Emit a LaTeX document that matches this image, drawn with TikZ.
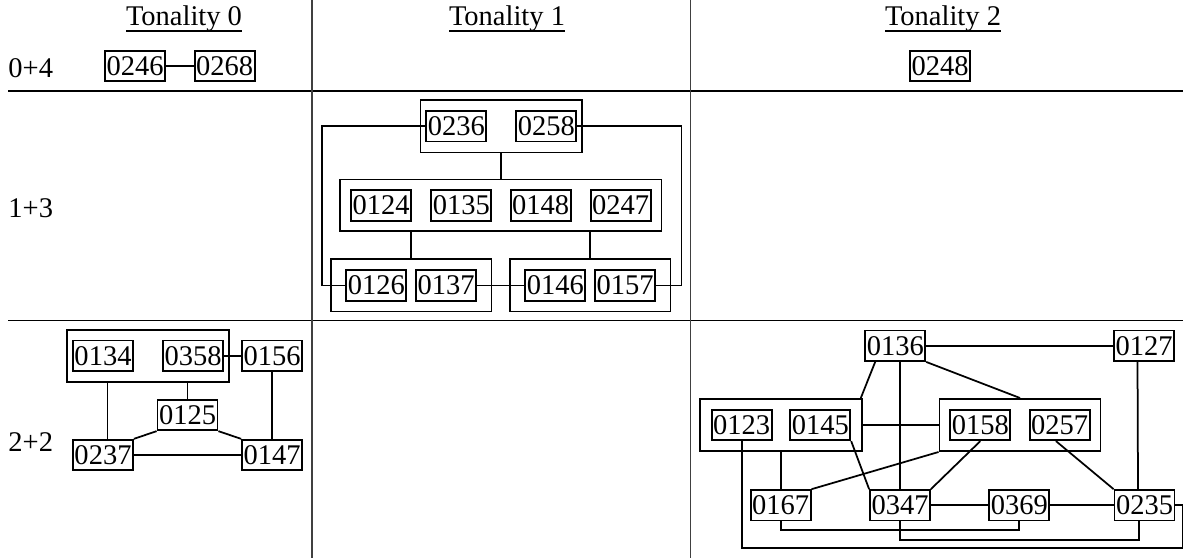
\documentclass[tikz,border=0pt]{standalone}
\usepackage{fontspec}
\setmainfont{Liberation Serif}
\usepackage{tikz}
\usetikzlibrary{fit}
\newcommand{\thickul}[1]{\setbox0\hbox{#1}\rlap{\rule[-2.3pt]{\wd0}{0.7pt}}\box0}
\tikzstyle{pcs}=[draw=black,line width=0.7pt,minimum width=24pt,minimum height=12.2pt,inner sep=0pt]
\tikzstyle{pcsgroup}=[draw=black,line width=0.7pt]
\tikzstyle{link}=[line width=0.7pt]
\tikzstyle{rowlabel}=[anchor=base west,inner sep=0pt]
\tikzstyle{head}=[anchor=base,inner sep=0pt]

\begin{document}
\begin{tikzpicture}[x=0.4pt,y=-0.4pt,font=\fontsize{11.4}{13}\selectfont]
    \useasboundingbox (0,0) rectangle (1185,558);
    \draw[line width=0.45pt] (8,91) -- (1183,91);
    \draw[line width=0.45pt] (8,320.7) -- (1183,320.7);
    \draw[line width=0.45pt,black!75] (312,0) -- (312,558);
    \draw[line width=0.45pt,black!75] (690.5,0) -- (690.5,558);

    \node[head] (t0) at (184,26) {\thickul{Tonality 0}};
    \node[head] (t1) at (507,26) {\thickul{Tonality 1}};
    \node[head] (t2) at (943,26) {\thickul{Tonality 2}};
    \node[rowlabel] (r04) at (8,78) {0+4};
    \node[rowlabel] (r13) at (8,218) {1+3};
    \node[rowlabel] (r22) at (8,451.5) {2+2};

    \node[pcs] (p0246) at (135,66) {0246};
    \node[pcs] (p0268) at (224.7,66) {0268};
    \node[pcs] (p0248) at (940,66) {0248};
    \draw[link] (p0246) -- (p0268);

    \node[pcs] (p0236) at (456.3,126.3) {0236};
    \node[pcs] (p0258) at (546.3,126.3) {0258};
    \node[pcs] (p0124) at (381,205.5) {0124};
    \node[pcs] (p0135) at (461.3,205.5) {0135};
    \node[pcs] (p0148) at (540.7,205.5) {0148};
    \node[pcs] (p0247) at (620.7,205.5) {0247};
    \node[pcs] (p0126) at (376.3,285.5) {0126};
    \node[pcs] (p0137) at (446,285.5) {0137};
    \node[pcs] (p0146) at (555.3,285.5) {0146};
    \node[pcs] (p0157) at (625,285.5) {0157};
    \node[pcsgroup,inner xsep=2pt,inner ysep=4pt,fit=(p0236)(p0258)] (gA) {};
    \node[pcsgroup,inner xsep=4pt,inner ysep=3.9pt,fit=(p0124)(p0247)] (gB) {};
    \node[pcsgroup,inner xsep=5.8pt,inner ysep=4pt,fit=(p0126)(p0137)] (gC) {};
    \node[pcsgroup,inner xsep=5.8pt,inner ysep=4pt,fit=(p0146)(p0157)] (gD) {};
    \draw[link] (gA.south) -- (gA.south |- gB.north);
    \draw[link] (gC.north) -- (gC.north |- gB.south);
    \draw[link] (gD.north) -- (gD.north |- gB.south);
    \draw[link] (p0236.west) -- ++(-103.7,0) |- (p0126.west);
    \draw[link] (p0258.east) -- ++(104.3,0) |- (p0157.east);
    \draw[link] (p0137) -- (p0146);

    \node[pcs] (p0134) at (103,355.8) {0134};
    \node[pcs] (p0358) at (193,355.8) {0358};
    \node[pcs] (p0156) at (272,355.8) {0156};
    \node[pcs] (p0125) at (187.5,415) {0125};
    \node[pcs] (p0237) at (103,455) {0237};
    \node[pcs] (p0147) at (272,455) {0147};
    \node[pcsgroup,inner xsep=2pt,inner ysep=4pt,fit=(p0134)(p0358)] (gE) {};
    \draw[link] (p0358) -- (p0156);
    \draw[link] ([xshift=1.8pt]p0237.north) -- ([xshift=1.8pt]p0237.north |- gE.south);
    \draw[link] (p0125.north) -- (p0125.north |- gE.south);
    \draw[link] (p0125.south west) -- (p0237.north east);
    \draw[link] (p0125.south east) -- (p0147.north west);
    \draw[link] (p0237) -- (p0147);
    \draw[link] (p0156) -- (p0147);

    \node[pcs] (p0136) at (895.3,345.8) {0136};
    \node[pcs] (p0127) at (1144,345.8) {0127};
    \node[pcs] (p0123) at (741.7,425) {0123};
    \node[pcs] (p0145) at (820.3,425) {0145};
    \node[pcs] (p0158) at (980.3,425) {0158};
    \node[pcs] (p0257) at (1059.7,425) {0257};
    \node[pcs] (p0167) at (780.7,505.3) {0167};
    \node[pcs] (p0347) at (900,505.3) {0347};
    \node[pcs] (p0369) at (1019.3,505.3) {0369};
    \node[pcs] (p0235) at (1144.5,505.3) {0235};
    \node[pcsgroup,inner xsep=4.2pt,inner ysep=4pt,fit=(p0123)(p0145)] (gF) {};
    \node[pcsgroup,inner xsep=4pt,inner ysep=4pt,fit=(p0158)(p0257)] (gG) {};
    \draw[link] (p0136) -- (p0127);
    \draw[link] ([xshift=4.3pt]p0136.south west) -- ([xshift=-0.7pt]gF.north east);
    \draw[link] (p0136.south east) -- (gG.north);
    \draw[link] (p0347.north) -- (p0347.north |- p0136.south);
    \draw[link] ([xshift=-2.6pt]p0127.south) -- ([xshift=-2.6pt]p0235.north);
    \draw[link] (gF) -- (gG);
    \draw[link] (p0167.north) -- (p0167.north |- gF.south);
    \draw[link] (p0145.south east) -- (p0347.north west);
    \draw[link] (gG.south west) -- (p0167.north east);
    \draw[link] (p0158.south) -- (p0347.north east);
    \draw[link] ([xshift=-1.5pt]p0257.south) -- (p0235.north west);
    \draw[link] (p0347) -- (p0369);
    \draw[link] (p0369) -- (p0235);
    \draw[link] (p0167.south) -- ++(0,8.5) -| (p0369.south);
    \draw[link] (p0347.south) -- ++(0,18.5) -| ([xshift=-2.2pt]p0235.south);
    \draw[link] (p0235.east) -- ++(7,0) -- ++(0,43) -| (p0123.south);
\end{tikzpicture}
\end{document}
